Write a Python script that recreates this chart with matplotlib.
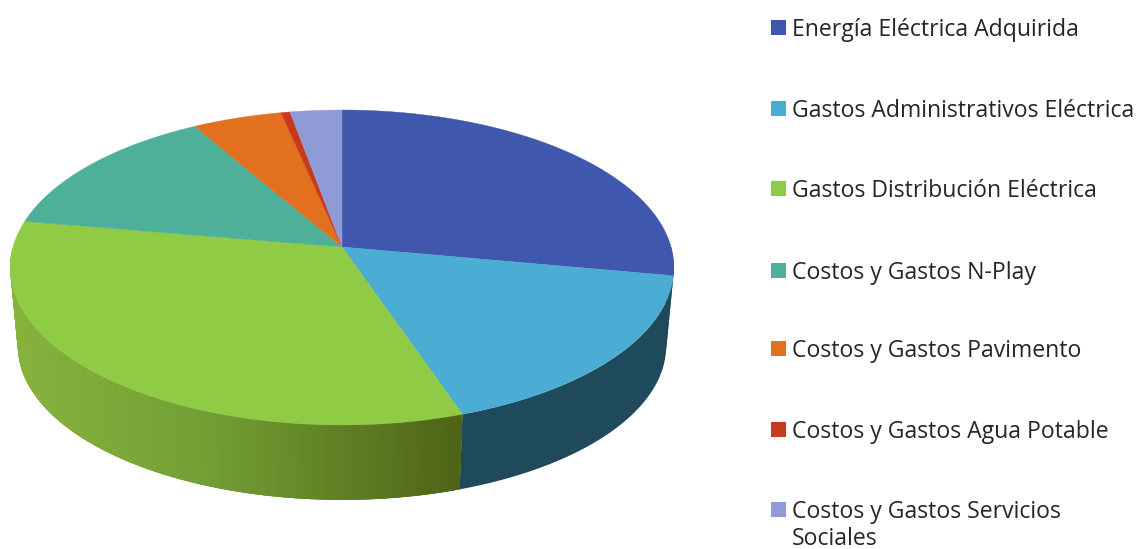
import numpy as np
import matplotlib
matplotlib.use('Agg')
import matplotlib.pyplot as plt
from matplotlib.colors import to_rgb
from matplotlib.patches import Rectangle

# категории и значения (проценты)
labels = ['Energía Eléctrica Adquirida', 'Gastos Administrativos Eléctrica',
          'Gastos Distribución Eléctrica', 'Costos y Gastos N-Play',
          'Costos y Gastos Pavimento', 'Costos y Gastos Agua Potable',
          'Costos y Gastos Servicios\nSociales']
values = [27.9, 16.9, 32.9, 14.0, 4.95, 0.5, 2.85]
colors = ['#3f57ad', '#4bacd4', '#8fcb45', '#4fb09a', '#e2701f', '#c9391d', '#8e9bd6']
side_colors = ['#2a3a70', '#1f4a5c', None, '#2f6a5c', '#8a4412', '#7a2212', '#565e82']

# геометрия псевдо-3D круга в пикселях рисунка
cx, cy = 342, 247
R, c, k = 329, 154.8, 0.13
depth = 79
shrink = 0.977
legend_y = [27, 108, 188, 270, 348, 429, 509]


def rim(theta, scale=1.0, dy=0):
    # theta в градусах, по часовой стрелке от верха
    t = np.radians(theta)
    w = 1 + k * np.cos(t)
    return cx + scale * R * np.sin(t) / w, cy + dy - scale * c * np.cos(t) / w


def green_side(x):
    # градиент боковой стенки зеленого сектора
    stops = [to_rgb('#86b23c'), to_rgb('#73a035'), to_rgb('#4e6416')]
    return [np.interp(x, [15, 200, 460], [s[i] for s in stops]) for i in range(3)]


fig = plt.figure(figsize=(11.42, 5.49), dpi=100)
ax = fig.add_axes([0, 0, 1, 1])
ax.set_xlim(0, 1142)
ax.set_ylim(549, 0)
ax.axis('off')

edges = np.concatenate([[0], np.cumsum(values)]) * 360 / np.sum(values)

# боковая стенка (видна только передняя половина)
for i in range(len(values)):
    a1, a2 = edges[i], edges[i + 1]
    a1 = max(a1, 90)
    a2 = min(a2, 270)
    if a2 <= a1:
        continue
    if side_colors[i]:
        # однотонный сектор одним многоугольником
        th = np.linspace(a1, a2, 100)
        x1, y1 = rim(th)
        x2, y2 = rim(th, shrink, depth)
        ax.fill(np.r_[x1, x2[::-1]], np.r_[y1, y2[::-1]], color=side_colors[i], lw=0, zorder=1)
        continue
    # градиент: полосы идут внахлест, чтобы не было швов
    th = np.arange(a2, a1, -0.5)
    for t in th:
        t2 = max(t - 1.5, a1)
        x1, y1 = rim(t)
        x2, y2 = rim(t2)
        x3, y3 = rim(t2, shrink, depth)
        x4, y4 = rim(t, shrink, depth)
        ax.fill([x1, x2, x3, x4], [y1, y2, y3, y4], color=green_side(x1), lw=0, zorder=1)

# верхняя грань
for i in range(len(values)):
    th = np.linspace(edges[i], edges[i + 1], 200)
    x, y = rim(th)
    ax.fill(np.r_[cx, x], np.r_[cy, y], color=colors[i], lw=0.3, zorder=2)

# легенда
for i in range(len(labels)):
    ax.add_patch(Rectangle((771, legend_y[i] - 7.5), 15, 15, color=colors[i], lw=0))
    first = labels[i].split('\n')
    ax.text(792, legend_y[i], first[0], fontsize=16.6, family='Open Sans', color='#262626',
            va='center_baseline')
    if len(first) > 1:
        ax.text(792, legend_y[i] + 27, first[1], fontsize=16.6, family='Open Sans',
                color='#262626', va='center_baseline')

fig.savefig('out.png', dpi=100)
